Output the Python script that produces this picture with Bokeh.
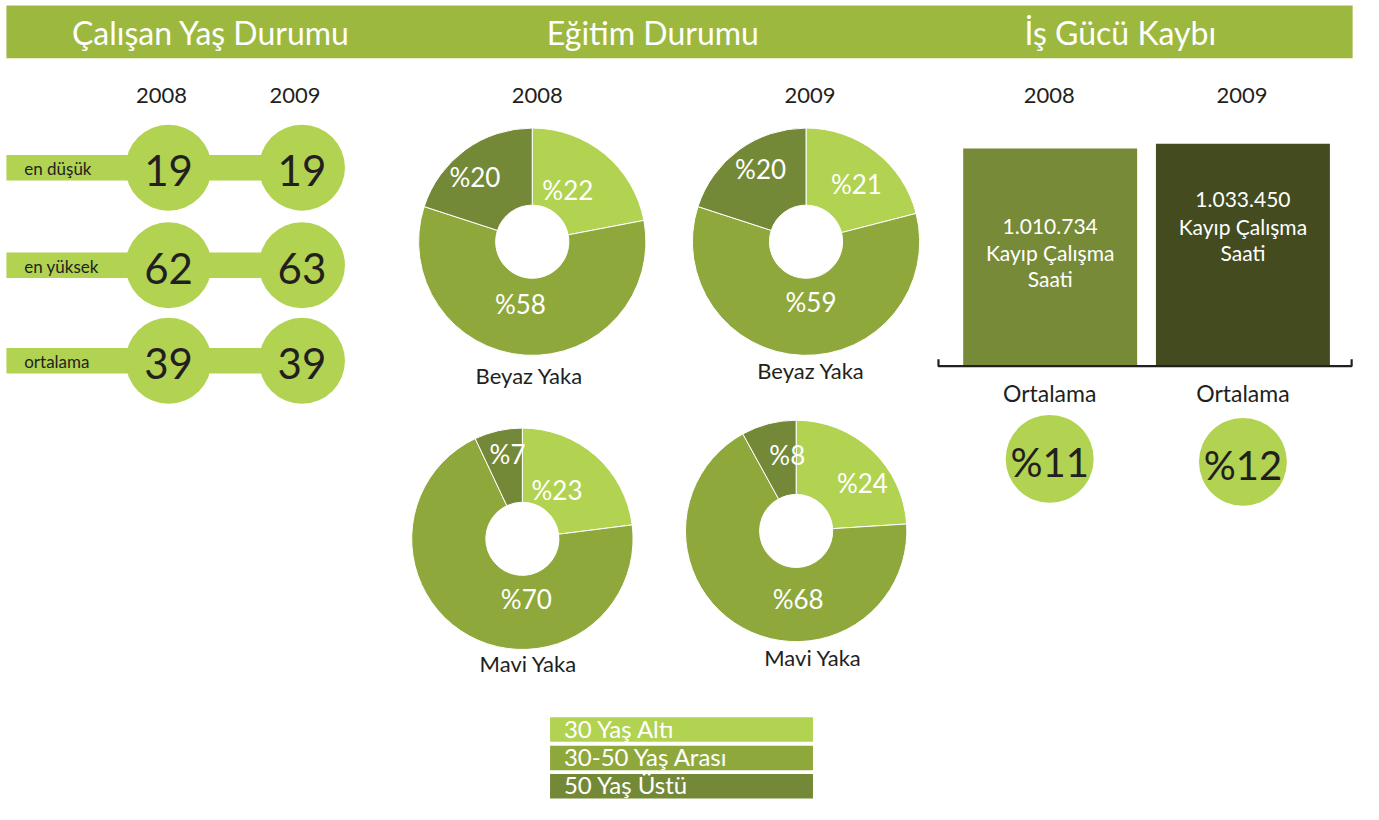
import numpy as np
from bokeh.plotting import figure
from bokeh.models import Range1d, ColumnDataSource
from bokeh.core.properties import value
from bokeh.embed import file_html
from bokeh.resources import INLINE

# ---------------- data ----------------
section_titles = ["Çalışan Yaş Durumu", "Eğitim Durumu", "İş Gücü Kaybı"]
years = ["2008", "2009"]
age_labels = ["en düşük", "en yüksek", "ortalama"]
age_2008 = [19, 62, 39]
age_2009 = [19, 63, 39]
edu_groups = ["30 Yaş Altı", "30-50 Yaş Arası", "50 Yaş Üstü"]
beyaz_2008 = [22, 58, 20]
beyaz_2009 = [21, 59, 20]
mavi_2008 = [23, 70, 7]
mavi_2009 = [24, 68, 8]
donut_names = ["Beyaz Yaka", "Beyaz Yaka", "Mavi Yaka", "Mavi Yaka"]
lost_hours = [1010734, 1033450]
lost_caption = "Kayıp Çalışma\nSaati"
avg_label = "Ortalama"
lost_avg = [11, 12]

# ---------------- styles / layout ----------------
FONT = value("Lato")
DARK = "#231f20"
HEADER = "#9db83e"
C_LIGHT = "#b2d252"
C_MID = "#8fa83c"
C_DARK = "#748938"
edu_colors = [C_LIGHT, C_MID, C_DARK]
bar_colors = ["#778a38", "#434b1f"]

W, H = 1363, 804
X1, Y1 = 1379, 820  # reference canvas mapped into the figure
p = figure(width=W, height=H, x_range=Range1d(0, X1), y_range=Range1d(Y1, 0),
           output_backend="svg", toolbar_location=None, min_border=0,
           x_axis_location=None, y_axis_location=None)
p.grid.visible = False
p.outline_line_color = None
p.background_fill_color = "white"
p.border_fill_color = "white"

def txt(x, y, t, size, color=DARK, align="center", baseline="middle", **kw):
    p.text(x=[x], y=[y], text=[t], text_font=FONT, text_font_size=size,
           text_color=color, text_align=align, text_baseline=baseline, **kw)

# header bar
p.quad(left=[6], right=[1368], top=[5], bottom=[59], color=HEADER, line_color=None)
for t, cx in zip(section_titles, [213, 660, 1133]):
    txt(cx, 33, t, "32px", color="white")

# ---------------- age section ----------------
age_x = [170, 305]
row_y = [170.5, 270, 367.5]
for t, cx in zip(years, age_x):
    txt(cx - 7, 97, t, "22px")
p.quad(left=[6] * 3, right=[305] * 3, top=[y - 13 for y in row_y],
       bottom=[y + 13 for y in row_y], color=C_LIGHT, line_color=None)
for i, vals in enumerate([age_2008, age_2009]):
    p.circle(x=[age_x[i]] * 3, y=row_y, radius=43.5, color=C_LIGHT, line_color=None)
    p.text(x=[age_x[i]] * 3, y=[y + 3 for y in row_y], text=[str(v) for v in vals],
           text_font=FONT, text_font_size="42px", text_color=DARK,
           text_align="center", text_baseline="middle")
p.text(x=[24] * 3, y=[y + 1 for y in row_y], text=age_labels, text_font=FONT,
       text_font_size="17px", text_color=DARK, text_align="left", text_baseline="middle")

# ---------------- education donuts ----------------
donut_data = [beyaz_2008, beyaz_2009, mavi_2008, mavi_2009]
centers = [(538, 246), (815, 246), (528, 549), (805, 541)]
radii = [115, 115, 112, 112]
label_offsets = [
    [(36, -53), (-12, 64), (-58, -66)],
    [(51, -59), (5, 61), (-46, -74)],
    [(35, -50), (4, 61), (-15, -86)],
    [(67, -49), (2, 69), (-9, -77)],
]
name_pos = [(535, 382), (820, 377), (534, 676), (822, 670)]
for t, cx in zip(years, [543, 819]):
    txt(cx, 97, t, "22px")
for vals, (cx, cy), r, offs, nm, npos in zip(donut_data, centers, radii, label_offsets,
                                             donut_names, name_pos):
    frac = np.array(vals, dtype=float) / sum(vals)
    cum = np.concatenate([[0], np.cumsum(frac)])
    start = np.pi / 2 - 2 * np.pi * cum[:-1]
    end = np.pi / 2 - 2 * np.pi * cum[1:]
    src = ColumnDataSource(dict(x=[cx] * 3, y=[cy] * 3, s=start, e=end, c=edu_colors))
    p.annular_wedge(x="x", y="y", inner_radius=37, outer_radius=r, start_angle="s",
                    end_angle="e", direction="clock", fill_color="c",
                    line_color="white", line_width=1, source=src)
    p.text(x=[cx + o[0] for o in offs], y=[cy + o[1] for o in offs],
           text=["%" + str(v) for v in vals], text_font=FONT, text_font_size="26px",
           text_color="white", text_align="center", text_baseline="middle")
    txt(npos[0], npos[1], nm, "22px")

# legend
leg_top = [731, 760, 789]
p.quad(left=[556] * 3, right=[822] * 3, top=leg_top, bottom=[t + 25 for t in leg_top],
       color=edu_colors, line_color=None)
p.text(x=[570] * 3, y=[t + 11 for t in leg_top], text=edu_groups, text_font=FONT,
       text_font_size="24px", text_color="white", text_align="left", text_baseline="middle")

# ---------------- lost work hours ----------------
base_py, max_top_py = 373, 146
vmax = max(lost_hours)
k = vmax / (base_py - max_top_py)
p.extra_y_ranges = {"hours": Range1d(start=(base_py - Y1) * k, end=base_py * k)}
bar_x = [1062, 1257]
p.vbar(x=bar_x, width=176, top=lost_hours, bottom=0, y_range_name="hours",
       color=bar_colors, line_color=None)
for t, cx in zip(years, [1061, 1256]):
    txt(cx, 97, t, "22px")
# baseline bracket
p.line(x=[949, 949, 1367, 1367], y=[366, 373, 373, 366], line_color=DARK, line_width=2.2)
label_tops = [230, 203]
for cx, v, ty in zip(bar_x, lost_hours, label_tops):
    lines = [f"{v:,}".replace(",", ".")] + lost_caption.split("\n")
    p.text(x=[cx] * 3, y=[ty, ty + 27, ty + 54], text=lines, text_font=FONT,
           text_font_size="21px", text_color="white", text_align="center",
           text_baseline="middle")
avg_cy = [467.5, 470.5]
for cx, a, cy in zip([1061.5, 1257], lost_avg, avg_cy):
    txt(cx, 400, avg_label, "23px")
    p.circle(x=[cx], y=[cy], radius=44.5, color=C_LIGHT, line_color=None)
    txt(cx, cy + 3, "%" + str(a), "40px")

open("out.html", "w").write(file_html(p, INLINE))
